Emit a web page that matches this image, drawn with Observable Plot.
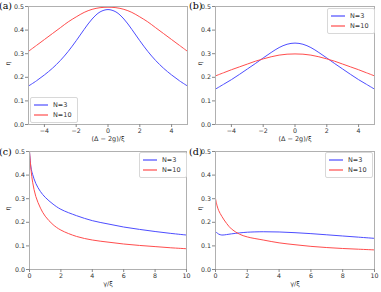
<!DOCTYPE html>
<html><head><meta charset="utf-8">
<script src="https://cdn.jsdelivr.net/npm/d3@7"></script>
<script src="https://cdn.jsdelivr.net/npm/@observablehq/plot@0.6"></script>
<style>
body{margin:0;background:#fff;}
#wrap{position:relative;width:381px;height:292px;overflow:hidden;font-family:"DejaVu Sans",sans-serif;}
.panel{position:absolute;}
.plabel{position:absolute;font-family:"DejaVu Serif","Liberation Serif",serif;font-size:9.5px;line-height:10px;color:#000;}
.legend{position:absolute;background:#fff;border:1px solid #d8d8d8;border-radius:2px;font-size:6.5px;color:#333;padding:2px 5px 2px 3px;}
.legend .row{display:flex;align-items:center;height:10px;}
.legend svg{margin-right:5px;}
</style></head>
<body><div id="wrap"></div>
<script>
// ---- data ----
const deltaX = [-5,-4.5,-4,-3.5,-3,-2.5,-2,-1.5,-1,-0.5,0,0.5,1,1.5,2,2.5,3,3.5,4,4.5,5];
const blueA = [0.163,0.185,0.21,0.238,0.271,0.31,0.355,0.403,0.447,0.477,0.487,0.477,0.447,0.403,0.355,0.31,0.271,0.238,0.21,0.185,0.163];
const redA  = [0.31,0.335,0.36,0.385,0.41,0.435,0.456,0.475,0.488,0.495,0.497,0.495,0.488,0.475,0.456,0.435,0.41,0.385,0.36,0.335,0.31];
const blueB = [0.15,0.17,0.19,0.212,0.235,0.258,0.282,0.305,0.326,0.34,0.345,0.34,0.326,0.305,0.282,0.258,0.235,0.212,0.19,0.17,0.15];
const redB  = [0.206,0.219,0.232,0.244,0.256,0.268,0.278,0.287,0.294,0.298,0.299,0.298,0.294,0.287,0.278,0.268,0.256,0.244,0.232,0.219,0.206];
const gammaX = [0,0.1,0.2,0.4,0.7,1,1.5,2,3,4,5,6,7,8,9,10];
const blueC = [0.5,0.43,0.403,0.365,0.33,0.306,0.277,0.255,0.228,0.207,0.193,0.18,0.17,0.161,0.153,0.146];
const redC  = [0.5,0.42,0.37,0.31,0.26,0.226,0.19,0.167,0.14,0.125,0.116,0.108,0.102,0.097,0.092,0.088];
const blueD = [0.16,0.155,0.15,0.146,0.148,0.151,0.155,0.158,0.16,0.159,0.156,0.152,0.147,0.142,0.137,0.132];
const redD  = [0.3,0.27,0.25,0.225,0.195,0.172,0.15,0.138,0.125,0.113,0.105,0.098,0.093,0.089,0.086,0.083];
const seriesNames = ["N=3","N=10"];
const seriesColors = ["#4d4dff","#ff4d4d"];
const deltaTicks = [-4,-2,0,2,4];
const gammaTicks = [0,2,4,6,8,10];
const etaTicks = [0,0.1,0.2,0.3,0.4,0.5];
const panelLabels = ["(a)","(b)","(c)","(d)"];
const xLabelDelta = "(Δ − 2g)/ξ";
const xLabelGamma = "γ/ξ";
const yLabel = "η";

const wrap = document.getElementById("wrap");

function rows(xs, ys, name){ return xs.map((x,i)=>({x, y: ys[i], s: name})); }

function panel(cfg){
  const data = [...rows(cfg.xs, cfg.blue, seriesNames[0]), ...rows(cfg.xs, cfg.red, seriesNames[1])];
  const p = Plot.plot({
    width: cfg.w, height: 146,
    marginLeft: cfg.ml, marginRight: cfg.mr, marginTop: cfg.mt, marginBottom: 146 - cfg.mt - 118,
    style: {fontFamily: "DejaVu Sans, sans-serif", fontSize: "6.3px", color: "#333", background: "transparent", overflow: "visible"},
    x: {domain: cfg.xdom},
    y: {domain: [0, 0.5]},
    color: {domain: seriesNames, range: seriesColors},
    marks: [
      Plot.line(data, {x: "x", y: "y", z: "s", stroke: "s", strokeWidth: 1, curve: "catmull-rom"}),
      Plot.frame({stroke: "#b0b0b0", strokeWidth: 1}),
      Plot.axisX({ticks: cfg.xticks, tickSize: 3, tickPadding: 1.5, stroke: "#888", label: null, tickFormat: d => d < 0 ? "−" + Math.abs(d) : String(d)}),
      Plot.axisY({ticks: etaTicks, tickSize: 3, tickPadding: 1.5, stroke: "#888", tickFormat: d3.format(".1f"), label: null}),
      Plot.text([cfg.xlabel], {frameAnchor: "bottom", lineAnchor: "middle", dy: 14, fill: "#333", fontSize: 6.5}),
      Plot.text([yLabel], {frameAnchor: "left", lineAnchor: "middle", dx: cfg.ydx, rotate: -90, fill: "#333", fontSize: 6.5})
    ]
  });
  const div = document.createElement("div");
  div.className = "panel";
  div.style.left = cfg.left + "px"; div.style.top = cfg.top + "px";
  div.appendChild(p);
  wrap.appendChild(div);

  const lab = document.createElement("div");
  lab.className = "plabel";
  lab.textContent = cfg.label;
  lab.style.left = (cfg.left - 1) + "px"; lab.style.top = (cfg.top + 1) + "px";
  wrap.appendChild(lab);

  const lg = document.createElement("div");
  lg.className = "legend";
  lg.style.left = cfg.lgx + "px"; lg.style.top = cfg.lgy + "px";
  seriesNames.forEach((n,i)=>{
    const r = document.createElement("div"); r.className = "row";
    r.innerHTML = `<svg width="14" height="4"><line x1="0" x2="14" y1="2" y2="2" stroke="${seriesColors[i]}" stroke-width="1.2"/></svg><span>${n}</span>`;
    lg.appendChild(r);
  });
  wrap.appendChild(lg);
}

panel({left:0, top:0, w:190, ml:28, mr:3, mt:6, xs:deltaX, blue:blueA, red:redA, xdom:[-5,5], xticks:deltaTicks, xlabel:xLabelDelta, ydx:-20.5, label:panelLabels[0], lgx:30, lgy:97});
panel({left:190, top:0, w:191, ml:25, mr:7, mt:6, xs:deltaX, blue:blueB, red:redB, xdom:[-5,5], xticks:deltaTicks, xlabel:xLabelDelta, ydx:-16, label:panelLabels[1], lgx:327, lgy:8});
panel({left:0, top:146, w:190, ml:29, mr:4, mt:5, xs:gammaX, blue:blueC, red:redC, xdom:[0,10], xticks:gammaTicks, xlabel:xLabelGamma, ydx:-21.5, label:panelLabels[2], lgx:139, lgy:152});
panel({left:190, top:146, w:191, ml:25, mr:7, mt:5, xs:gammaX, blue:blueD, red:redD, xdom:[0,10], xticks:gammaTicks, xlabel:xLabelGamma, ydx:-16, label:panelLabels[3], lgx:325, lgy:152});
</script></body></html>
